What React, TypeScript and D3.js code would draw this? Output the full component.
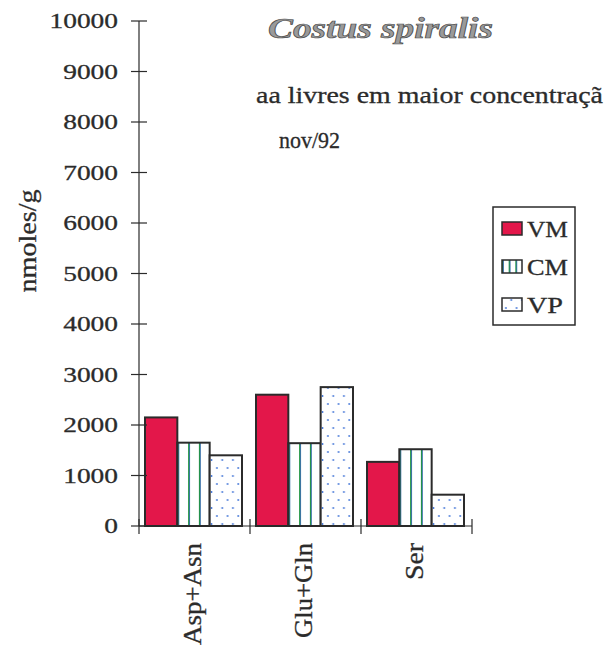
import React from "react";
import * as d3 from "d3";

const categories = ["Asp+Asn", "Glu+Gln", "Ser"];
const seriesNames = ["VM", "CM", "VP"];
const vmValues = [2150, 2600, 1270];
const cmValues = [1650, 1640, 1520];
const vpValues = [1400, 2750, 620];
const yTicks = [0, 1000, 2000, 3000, 4000, 5000, 6000, 7000, 8000, 9000, 10000];
const title = "Costus spiralis";
const subtitle = "aa livres em maior concentraçã";
const dateLabel = "nov/92";
const yLabel = "nmoles/g";

const W = 605;
const H = 652;
const FONT = "Liberation Serif, Times New Roman, serif";
const INK = "#2b2b2b";
const txt = { fontFamily: FONT };

export default function App() {
  const y = d3.scaleLinear().domain([0, 10000]).range([526, 21]);
  const x0 = d3.scaleBand<string>().domain(categories).range([139, 472]).padding(0);
  const x1 = d3.scaleBand<string>().domain(seriesNames).range([6, 103]).padding(0);
  const seriesValues = [vmValues, cmValues, vpValues];
  const fills = ["#e3174a", "url(#cmPat)", "url(#vpPat)"];
  const boundaries = [...categories.map((c) => x0(c) as number), 472];

  return (
    <svg width={W} height={H} style={{ position: "absolute", left: 0, top: 0, background: "#fff", fontFamily: FONT }}>
      <defs>
        <pattern id="cmPat" patternUnits="objectBoundingBox" width={1 / 3} height={1} patternContentUnits="userSpaceOnUse">
          <rect x={-5} y={0} width={30} height={400} fill="#fff" />
          <rect x={-0.2} y={0} width={2} height={400} fill="#1f9440" />
          <rect x={1.2} y={0} width={0.7} height={400} fill="#3a5fc8" />
        </pattern>
        <pattern id="vpPat" patternUnits="userSpaceOnUse" width={10.7} height={16}>
          <rect width={10.7} height={16} fill="#fff" />
          <circle cx={3} cy={4} r={0.9} fill="#3a6fd6" />
          <circle cx={8.35} cy={12} r={0.9} fill="#3a6fd6" />
        </pattern>
      </defs>

      {/* Title texts */}
      <text x={268} y={38} fontSize={29} fontStyle="italic" fontWeight="bold" fill="#9a9a9a" stroke="#4a4a4a" strokeWidth={0.7} textLength={225} lengthAdjust="spacingAndGlyphs" style={txt}>{title}</text>
      <text x={256} y={103} fontSize={23} fill={INK} stroke={INK} strokeWidth={0.3} textLength={347} lengthAdjust="spacingAndGlyphs" style={txt}>{subtitle}</text>
      <text x={279} y={148} fontSize={23} fill={INK} stroke={INK} strokeWidth={0.3} textLength={61} lengthAdjust="spacingAndGlyphs" style={txt}>{dateLabel}</text>

      {/* Y axis label */}
      <text transform="translate(36,241) rotate(-90)" textAnchor="middle" fontSize={25} fill={INK} stroke={INK} strokeWidth={0.3} textLength={103} lengthAdjust="spacingAndGlyphs" style={txt}>{yLabel}</text>

      {/* Bars */}
      {categories.map((c, ci) => (
        <g key={c} transform={`translate(${x0(c)},0)`}>
          {seriesNames.map((s, si) => {
            const v = seriesValues[si][ci];
            return (
              <rect key={s} x={x1(s)} y={y(v)} width={x1.bandwidth()} height={y(0) - y(v)} fill={fills[si]} stroke={INK} strokeWidth={2} />
            );
          })}
        </g>
      ))}

      {/* Y axis */}
      <line x1={139} x2={139} y1={y(10000)} y2={y(0)} stroke={INK} strokeWidth={1.2} />
      {yTicks.map((t) => (
        <g key={t}>
          <line x1={131} x2={147} y1={y(t)} y2={y(t)} stroke={INK} strokeWidth={1.2} />
          <text x={118} y={y(t)} dy="0.35em" textAnchor="end" fontSize={21} fill={INK} stroke={INK} strokeWidth={0.3} textLength={13.7 * String(t).length} lengthAdjust="spacingAndGlyphs" style={txt}>{t}</text>
        </g>
      ))}

      {/* X axis */}
      <line x1={139} x2={472} y1={y(0)} y2={y(0)} stroke={INK} strokeWidth={1.2} />
      {boundaries.map((b, i) => (
        <line key={i} x1={b} x2={b} y1={519} y2={534} stroke={INK} strokeWidth={1.2} />
      ))}
      {categories.map((c) => {
        const cx = (x0(c) as number) + x0.bandwidth() / 2;
        const len = c === "Ser" ? 37 : c === "Glu+Gln" ? 95 : 102;
        return (
          <text key={c} transform={`translate(${cx + 6},543) rotate(-90)`} textAnchor="end" fontSize={25} fill={INK} stroke={INK} strokeWidth={0.3} textLength={len} lengthAdjust="spacingAndGlyphs" style={txt}>{c}</text>
        );
      })}

      {/* Legend */}
      <rect x={493} y={207} width={82} height={118} fill="#fff" stroke={INK} strokeWidth={1.5} />
      {seriesNames.map((s, i) => {
        const top = [222, 260, 298][i];
        return (
          <g key={s}>
            <rect x={502} y={top} width={20} height={13} fill={fills[i]} stroke={INK} strokeWidth={1.5} />
            <text x={527} y={top + 15} fontSize={23} fill={INK} stroke={INK} strokeWidth={0.3} textLength={s === "VP" ? 36 : 41} lengthAdjust="spacingAndGlyphs" style={txt}>{s}</text>
          </g>
        );
      })}
    </svg>
  );
}
